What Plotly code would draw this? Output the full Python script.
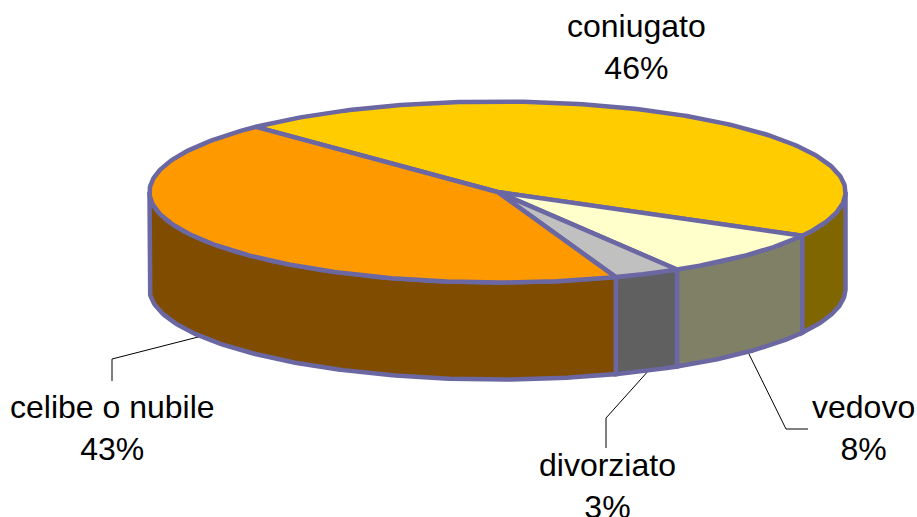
import numpy as np
import plotly.graph_objects as go

categories = ["coniugato", "vedovo", "divorziato", "celibe o nubile"]
values = [45.25, 8.35, 3.1, 43.3]
percent_labels = [46, 8, 3, 43]
top_colors = ["#FFCC00", "#FFFFCC", "#C0C0C0", "#FF9900"]
side_colors = ["#806600", "#808066", "#606060", "#804D00"]
label_pos = [(636, 47), (863, 428), (607, 486), (112, 428)]
leader_lines = {
    "vedovo": [(747, 350), (786, 429), (808, 429)],
    "divorziato": [(650, 369), (606, 418), (606, 448)],
    "celibe o nubile": [(202, 336), (112, 359), (112, 381)],
}

W, H = 917, 517
CX, CY, RX, RY, DEPTH = 497.5, 192, 348, 90.5, 97
START = 226
EDGE = "#6A67A3"
EDGE_W = 4.5


def pt(t, z=0):
    return CX + RX * np.cos(t), CY + RY * np.sin(t) + z


fig = go.Figure()


def poly(xs, ys, color):
    fig.add_trace(go.Scatter(x=list(xs), y=list(ys), mode="lines", fill="toself",
                             fillcolor=color, line=dict(color=EDGE, width=EDGE_W),
                             hoverinfo="skip", showlegend=False))


bounds = START + np.concatenate([[0], np.cumsum(values)]) * 360 / sum(values)
rad = np.radians(bounds)

# leader lines first, so the rim covers their ends
for pts in leader_lines.values():
    fig.add_trace(go.Scatter(x=[p[0] for p in pts], y=[p[1] for p in pts], mode="lines",
                             line=dict(color="black", width=1), hoverinfo="skip", showlegend=False))

# side walls: the visible front part of the rim (sin t >= 0)
for i in range(len(values)):
    t0, t1 = rad[i], rad[i + 1]
    for k in (0, 1):
        a, b = max(t0, k * 2 * np.pi), min(t1, k * 2 * np.pi + np.pi)
        if b > a:
            t = np.linspace(a, b, 120)
            x, y = pt(t)
            xb, yb = pt(t[::-1], DEPTH)
            poly(np.r_[x, xb, x[0]], np.r_[y, yb, y[0]], side_colors[i])

# top face
for i in range(len(values)):
    t = np.linspace(rad[i], rad[i + 1], 200)
    x, y = pt(t)
    poly(np.r_[CX, x, CX], np.r_[CY, y, CY], top_colors[i])

# labels
for name, p, (lx, ly) in zip(categories, percent_labels, label_pos):
    fig.add_annotation(x=lx, y=ly, text=f"{name}<br>{p}%", showarrow=False,
                       font=dict(family="Liberation Sans, Arial", size=32, color="black"),
                       align="center", xanchor="center", yanchor="middle")

fig.update_xaxes(range=[0, W], visible=False, fixedrange=True)
fig.update_yaxes(range=[H, 0], visible=False, fixedrange=True)
fig.update_layout(width=W, height=H, margin=dict(l=0, r=0, t=0, b=0),
                  paper_bgcolor="white", plot_bgcolor="white", showlegend=False)
fig.write_html("out.html", config={"displayModeBar": False},
               post_script="document.body.style.margin='0';document.body.style.overflow='hidden';")
